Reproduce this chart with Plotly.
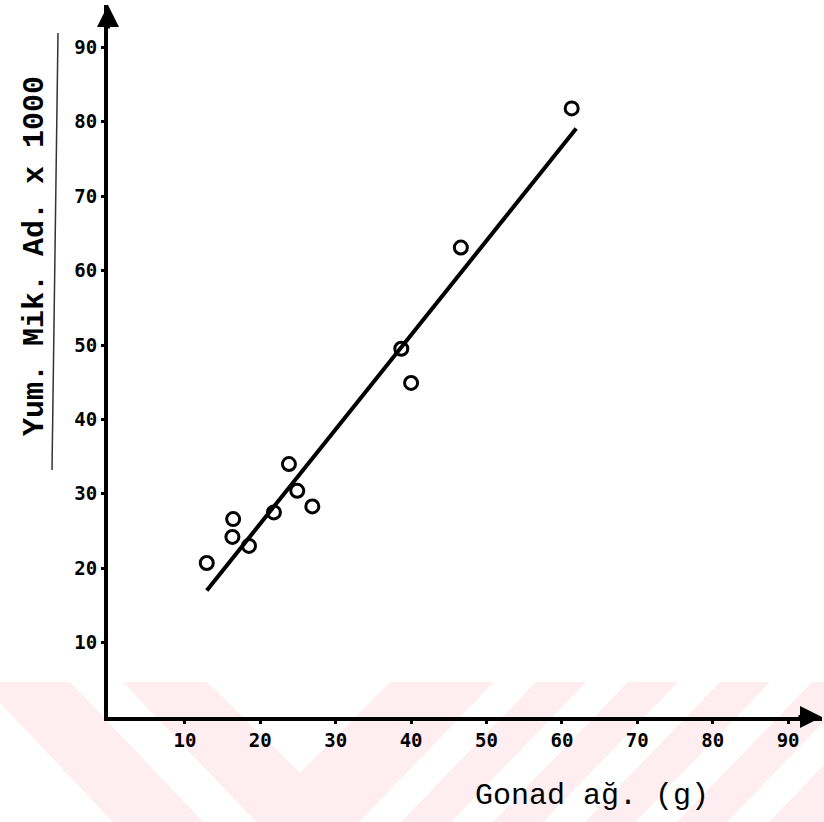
import plotly.graph_objects as go

# ---- data ----
gonad_weight = [12.9, 16.4, 16.3, 18.5, 21.8, 23.8, 24.9, 26.9, 38.7, 40.0, 46.6, 61.3]
egg_count_k = [20.7, 26.6, 24.2, 23.0, 27.5, 34.0, 30.4, 28.3, 49.5, 44.9, 63.1, 81.8]
fit_x = [12.9, 61.9]
fit_y = [17.0, 79.1]
tick_vals = [10, 20, 30, 40, 50, 60, 70, 80, 90]
tick_text = ["10", "20", "30", "40", "50", "60", "70", "80", "90"]
x_title = "Gonad ağ. (g)"
y_title = "Yum. Mik. Ad. x 1000"

# ---- layout geometry (pixels) ----
W, H = 824, 822
L, R, T, B = 108, 2, 5, 105
PW, PH = W - L - R, H - T - B
BOTTOM = H - B


def px(xp, yp):
    return (xp - L) / PW, (BOTTOM - yp) / PH


def path(points):
    s = ""
    for i, (a, b) in enumerate(points):
        xx, yy = px(a, b)
        s += ("M" if i == 0 else "L") + f"{xx:.5f},{yy:.5f} "
    return s + "Z"


PINK = "rgb(254,237,241)"
shapes = []
# watermark band
shapes.append(dict(type="path", path=path([(0, 682), (824, 682), (824, 822), (0, 822)]),
                   xref="paper", yref="paper", fillcolor=PINK, line=dict(width=0), layer="below"))
white_polys = [
    [(0, 703), (0, 822), (113, 822)],
    [(70, 682), (123, 682), (256, 822), (203, 822)],
    [(207, 682), (390, 682), (300, 773)],
]
for s0 in [494, 586, 678, 770, 862]:
    white_polys.append([(s0, 682), (s0 + 42, 682), (s0 + 42 - 135, 822), (s0 - 135, 822)])
for poly in white_polys:
    shapes.append(dict(type="path", path=path(poly), xref="paper", yref="paper",
                       fillcolor="white", line=dict(width=0), layer="below"))

# thin typed underline next to the y title
x0p, y0p = px(58, 33)
x1p, y1p = px(52, 470)
shapes.append(dict(type="line", xref="paper", yref="paper", x0=x0p, y0=y0p, x1=x1p, y1=y1p,
                   line=dict(color="#333333", width=1.5)))

fig = go.Figure()
fig.add_trace(go.Scatter(x=fit_x, y=fit_y, mode="lines",
                         line=dict(color="black", width=4), showlegend=False))
fig.add_trace(go.Scatter(x=gonad_weight, y=egg_count_k, mode="markers",
                         marker=dict(symbol="circle-open", size=13, color="black",
                                     line=dict(width=3, color="black")),
                         showlegend=False))

tick_font = dict(family="DejaVu Sans Mono", size=19, color="black", weight="bold")
fig.update_xaxes(range=[-0.2, 94.5], showgrid=False, zeroline=False,
                 showline=True, linecolor="black", linewidth=4,
                 ticks="outside", ticklen=3, tickwidth=3, tickcolor="black",
                 tickvals=tick_vals, ticktext=tick_text, tickfont=tick_font)
fig.update_yaxes(range=[0, 95.7], showgrid=False, zeroline=False,
                 showline=True, linecolor="black", linewidth=4,
                 ticks="outside", ticklen=3, tickwidth=3, tickcolor="black",
                 tickvals=tick_vals, ticktext=tick_text, tickfont=tick_font,
                 ticklabelstandoff=0)

ax_x, ax_y = px(592, 796)
ay_x, ay_y = px(35, 256)
annotations = [
    dict(text=x_title, x=ax_x, y=ax_y, xref="paper", yref="paper", showarrow=False,
         xanchor="center", yanchor="middle",
         font=dict(family="Liberation Mono", size=30, color="black")),
    dict(text=y_title, x=ay_x, y=ay_y, xref="paper", yref="paper", showarrow=False,
         textangle=-90, xanchor="center", yanchor="middle",
         font=dict(family="Liberation Mono", size=30, color="black", weight="bold")),
    # axis arrowheads
    dict(x=1, y=0, xref="paper", yref="paper", ax=-25, ay=0, axref="pixel", ayref="pixel",
         showarrow=True, arrowhead=2, arrowsize=1.1, arrowwidth=4, arrowcolor="black", text=""),
    dict(x=0, y=1, xref="paper", yref="paper", ax=0, ay=25, axref="pixel", ayref="pixel",
         showarrow=True, arrowhead=2, arrowsize=1.1, arrowwidth=4, arrowcolor="black", text=""),
]

fig.update_layout(width=W, height=H, margin=dict(l=L, r=R, t=T, b=B, pad=0),
                  paper_bgcolor="white", plot_bgcolor="white",
                  shapes=shapes, annotations=annotations)

fig.write_html("out.html", config={"displayModeBar": False},
               post_script="document.body.style.margin='0';document.body.style.overflow='hidden';")
